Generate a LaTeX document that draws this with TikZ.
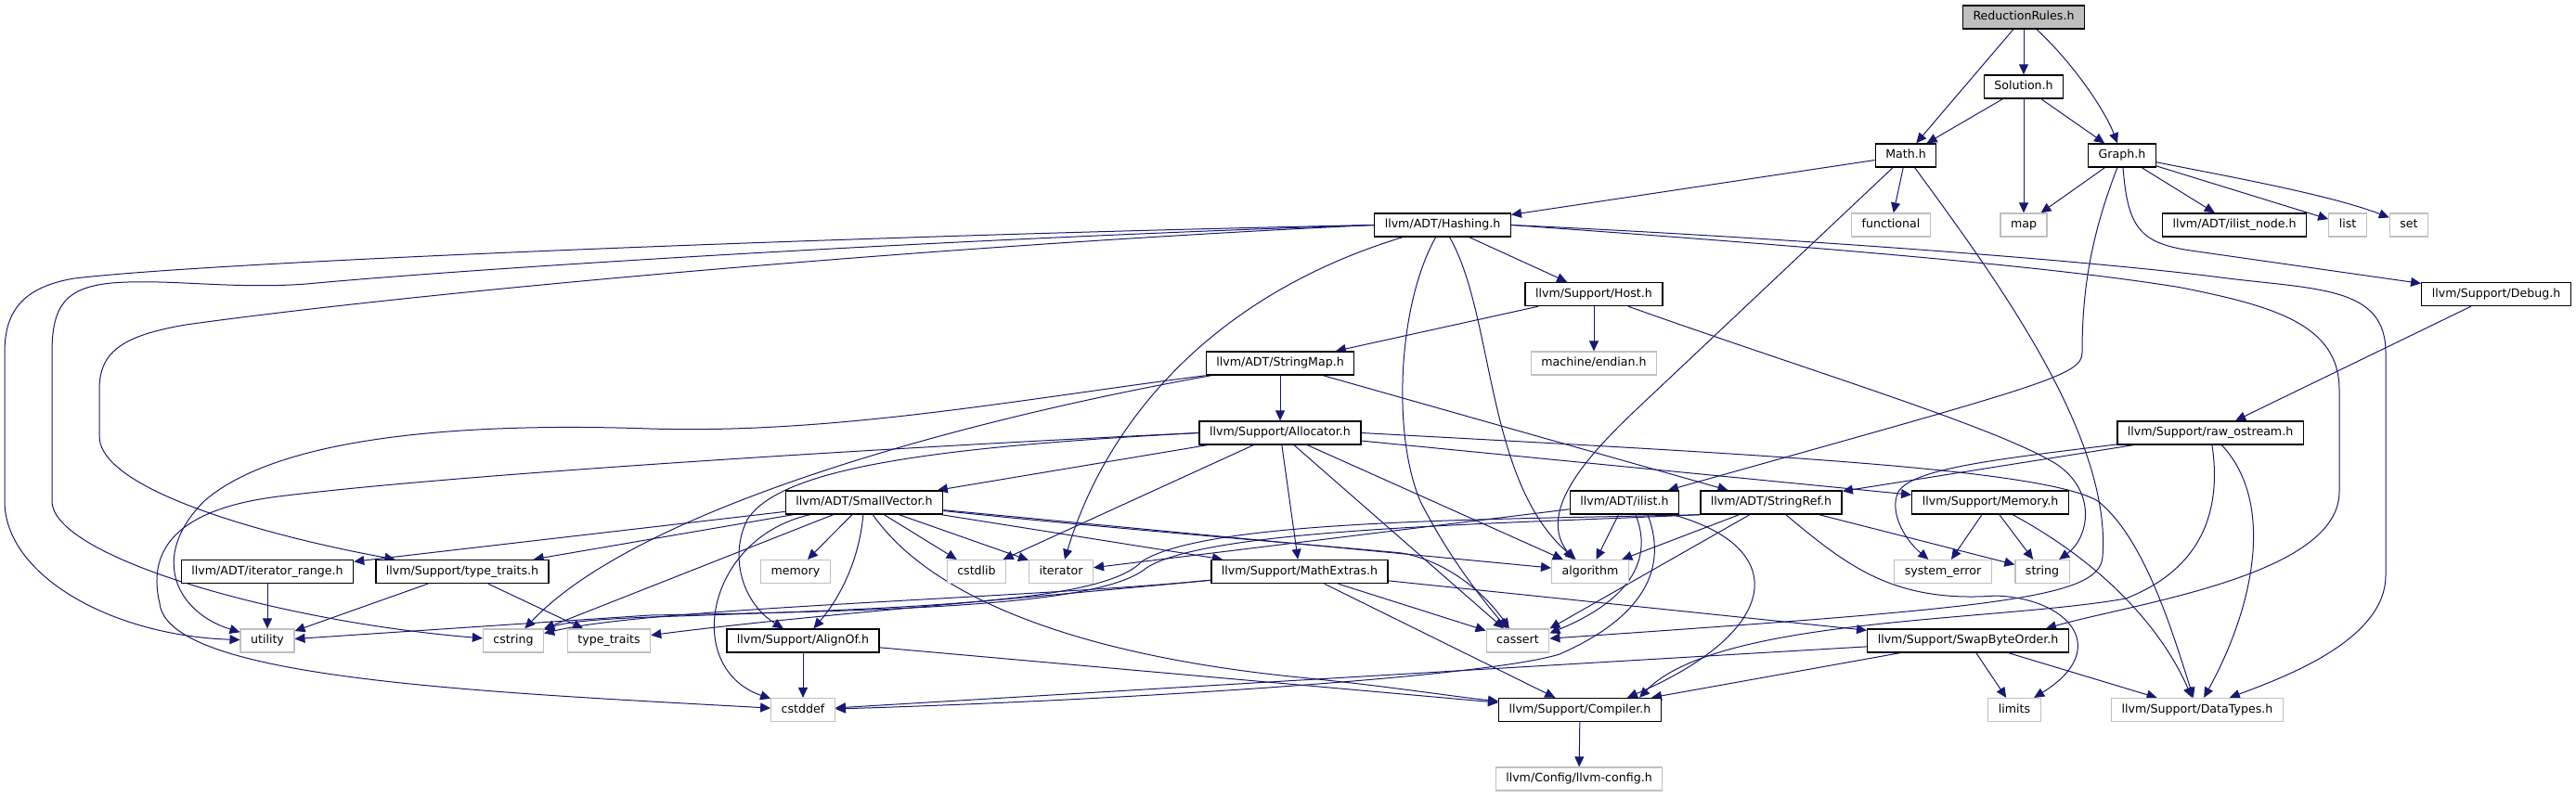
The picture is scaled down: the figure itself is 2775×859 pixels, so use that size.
\documentclass[tikz,border=0pt]{standalone}
\usepackage{fontspec}
\setmainfont{DejaVu Sans}
\usetikzlibrary{arrows.meta,backgrounds}
\definecolor{edgeblue}{HTML}{191970}
\definecolor{sysgrey}{HTML}{BFBFBF}
\tikzset{
  inc/.style={rectangle, fill=white, font=\fontsize{6.3pt}{7.5pt}\selectfont, inner xsep=5.5pt, inner ysep=0pt,
              minimum height=12.5pt, text height=4.8pt, text depth=1.4pt, line width=0.6pt},
  inc doc/.style={inc, draw=black, line width=0.7pt},
  inc sys/.style={inc, draw=sysgrey},
  inc top/.style={inc, draw=black, line width=0.7pt, fill=sysgrey},
  inc arr/.style={-{Triangle[length=5.5pt,width=5pt]}, line width=0.5pt, edgeblue},
}
\begin{document}
\begin{tikzpicture}[x=0.5pt, y=-0.5pt]
  \useasboundingbox (0,0) rectangle (2775,859);
  % rows 0-2: the header and the project files
  \node[inc top] (rr) at (2180,18.5) {ReductionRules.h};
  \node[inc doc] (sol) at (2180,93.5) {Solution.h};
  \node[inc doc] (math) at (2053,167.5) {Math.h};
  \node[inc doc] (graph) at (2286,167.5) {Graph.h};
  % row 3
  \node[inc doc] (hashing) at (1554,242.5) {llvm/ADT/Hashing.h};
  \node[inc sys] (func) at (2037,242.5) {functional};
  \node[inc sys] (map) at (2180,242.5) {map};
  \node[inc doc] (ilnode) at (2407,242.5) {llvm/ADT/ilist\_node.h};
  \node[inc sys] (list) at (2529,242.5) {list};
  \node[inc sys] (set) at (2595,242.5) {set};
  % rows 4-6
  \node[inc doc] (host) at (1717,317) {llvm/Support/Host.h};
  \node[inc doc] (debug) at (2689,317) {llvm/Support/Debug.h};
  \node[inc doc] (smap) at (1379,391.5) {llvm/ADT/StringMap.h};
  \node[inc sys] (endian) at (1717,391.5) {machine/endian.h};
  \node[inc doc] (alloc) at (1379,466.5) {llvm/Support/Allocator.h};
  \node[inc doc] (rawos) at (2381,466.5) {llvm/Support/raw\_ostream.h};
  % row 7
  \node[inc doc] (svec) at (931,541.5) {llvm/ADT/SmallVector.h};
  \node[inc doc] (ilist) at (1750,541.5) {llvm/ADT/ilist.h};
  \node[inc doc] (sref) at (1908,541.5) {llvm/ADT/StringRef.h};
  \node[inc doc] (mem) at (2144,541.5) {llvm/Support/Memory.h};
  % row 8
  \node[inc doc] (itrange) at (288,616) {llvm/ADT/iterator\_range.h};
  \node[inc doc] (ttrh) at (498,616) {llvm/Support/type\_traits.h};
  \node[inc sys] (memory) at (857,616) {memory};
  \node[inc sys] (cstdlib) at (1052,616) {cstdlib};
  \node[inc sys] (iter) at (1143,616) {iterator};
  \node[inc doc] (mext) at (1400,616) {llvm/Support/MathExtras.h};
  \node[inc sys] (algo) at (1713,616) {algorithm};
  \node[inc sys] (syserr) at (2093,616) {system\_error};
  \node[inc sys] (string) at (2200,616) {string};
  % row 9
  \node[inc sys] (utility) at (288,690.5) {utility};
  \node[inc sys] (cstring) at (553,690.5) {cstring};
  \node[inc sys] (ttraits) at (656,690.5) {type\_traits};
  \node[inc doc] (align) at (865,690.5) {llvm/Support/AlignOf.h};
  \node[inc sys] (cassert) at (1635,690.5) {cassert};
  \node[inc doc] (swap) at (2120,690.5) {llvm/Support/SwapByteOrder.h};
  % rows 10-11
  \node[inc sys] (cstddef) at (865,765) {cstddef};
  \node[inc doc] (comp) at (1702,765) {llvm/Support/Compiler.h};
  \node[inc sys] (limits) at (2170,765) {limits};
  \node[inc sys] (dtypes) at (2367,765) {llvm/Support/DataTypes.h};
  \node[inc sys] (cfg) at (1701,839.5) {llvm/Config/llvm-config.h};
  \begin{scope}[on background layer]
  % straight includes
  \foreach \a/\b in {rr/sol, rr/math, sol/math, sol/map, sol/graph, graph/map, graph/ilnode, graph/list,
      math/hashing, math/func, hashing/host, host/smap, host/endian, debug/rawos, smap/alloc, smap/sref,
      alloc/svec, alloc/cstdlib, alloc/mext, alloc/algo, alloc/cassert, alloc/mem, rawos/sref,
      svec/itrange, svec/ttrh, svec/memory, svec/cstring, svec/cstdlib, svec/iter, svec/mext, svec/algo,
      ilist/iter, ilist/algo, sref/algo, sref/string, mem/syserr, mem/string,
      itrange/utility, ttrh/utility, ttrh/ttraits, mext/cassert, mext/comp, mext/swap,
      align/cstddef, align/comp, swap/limits, swap/dtypes, comp/cfg}
    \draw[inc arr] (\a) -- (\b);
  % top part
  \draw[inc arr] (rr) .. controls (2235,70) and (2268,120) .. (graph);
  \draw[inc arr] (graph) .. controls (2400,190) and (2510,210) .. (set);
  \draw[inc arr] (graph) .. controls (2292,245) and (2305,262) .. (2360,270) -- (debug);
  \draw[inc arr] (graph) .. controls (2250,260) and (2243,320) .. (2243,380) .. controls (2243,405) and (2200,415) .. (ilist);
  \draw[inc arr] (math) -- (1780,425) .. controls (1730,472) and (1650,545) .. ([xshift=-9pt]algo.north);
  \draw[inc arr] (math) .. controls (2150,300) and (2275,470) .. (2265,600) .. controls (2262,645) and (2150,655) .. (cassert);
  % Hashing.h, long ones round the left and right
  \draw[inc arr] (hashing.west) .. controls (1000,252) and (250,280) .. (80,300) .. controls (20,310) and (5,340) .. (5,380)
      -- (5,540) .. controls (5,620) and (120,685) .. (utility);
  \draw[inc arr] (hashing.west) .. controls (1000,258) and (500,290) .. (330,306) .. controls (250,312) and (180,300) .. (120,305)
      .. controls (70,310) and (56,330) .. (56,380) -- (56,540) .. controls (56,600) and (300,670) .. (cstring);
  \draw[inc arr] (hashing.west) .. controls (1000,265) and (450,315) .. (200,350) .. controls (130,362) and (107,380) .. (107,420)
      -- (107,470) .. controls (107,530) and (300,580) .. (ttrh);
  \draw[inc arr] (hashing) .. controls (1300,320) and (1190,460) .. (iter);
  \draw[inc arr] (hashing) .. controls (1505,330) and (1500,470) .. (1530,540) .. controls (1560,600) and (1600,650) .. (cassert);
  \draw[inc arr] (hashing) .. controls (1610,340) and (1600,520) .. (algo);
  \draw[inc arr] (hashing.east) .. controls (1900,262) and (2200,285) .. (2350,310) .. controls (2450,330) and (2520,350) .. (2520,420)
      -- (2520,530) .. controls (2520,620) and (2300,650) .. ([xshift=42pt]swap.north);
  \draw[inc arr] (hashing.east) .. controls (1900,255) and (2250,280) .. (2400,300) .. controls (2500,312) and (2570,310) .. (2570,380)
      -- (2570,620) .. controls (2570,690) and (2460,730) .. (dtypes);
  \draw[inc arr] (host) .. controls (1950,400) and (2150,460) .. (2215,500) .. controls (2260,530) and (2250,580) .. (string);
  % StringMap.h and Allocator.h
  \draw[inc arr] (smap.south west) .. controls (1100,430) and (900,468) .. (700,462) .. controls (500,455) and (300,470) .. (220,540)
      .. controls (160,600) and (190,660) .. (utility);
  \draw[inc arr] (smap) .. controls (1050,450) and (690,545) .. (cstring);
  \draw[inc arr] (alloc.west) .. controls (1000,480) and (500,510) .. (300,535) .. controls (180,550) and (160,600) .. (172,650)
      .. controls (180,730) and (500,745) .. (cstddef);
  \draw[inc arr] (alloc.west) .. controls (1000,482) and (840,505) .. (805,560) .. controls (785,600) and (800,650) .. (align);
  \draw[inc arr] (alloc.east) .. controls (1900,490) and (2200,505) .. (2260,540) .. controls (2310,580) and (2340,680) .. (dtypes);
  % raw_ostream.h and Memory.h
  \draw[inc arr] (rawos) .. controls (2150,495) and (2060,505) .. (2045,530) .. controls (2035,550) and (2050,580) .. (syserr);
  \draw[inc arr] (rawos) .. controls (2392,540) and (2380,610) .. (2290,645) .. controls (2150,670) and (1850,665) .. ([xshift=32pt]comp.north);
  \draw[inc arr] (rawos) .. controls (2450,540) and (2430,650) .. (dtypes);
  \draw[inc arr] (mem) .. controls (2270,610) and (2330,680) .. (dtypes);
  % SmallVector.h
  \draw[inc arr] (svec) .. controls (760,580) and (735,720) .. (cstddef);
  \draw[inc arr] (svec) .. controls (1000,640) and (1150,705) .. (1400,730) .. controls (1500,740) and (1560,750) .. (comp);
  \draw[inc arr] (svec) .. controls (925,610) and (900,650) .. (align);
  \draw[inc arr] (svec) .. controls (1200,570) and (1450,590) .. (1510,596) .. controls (1560,605) and (1600,640) .. (cassert);
  % ilist.h
  \draw[inc arr] ([xshift=6pt]ilist.south) .. controls (1780,600) and (1760,645) .. ([yshift=-2.5pt]cassert.north east);
  \draw[inc arr] ([xshift=12.5pt]ilist.south) .. controls (1800,620) and (1760,670) .. (1680,705) .. controls (1600,730) and (1200,755) .. (cstddef);
  \draw[inc arr] ([xshift=26pt]ilist.south) .. controls (1930,590) and (1920,680) .. ([xshift=25.5pt]comp.north);
  % StringRef.h
  \draw[inc arr] (sref) -- (cassert.north east);
  \draw[inc arr] (sref) .. controls (1990,610) and (2040,650) .. (2150,642) .. controls (2230,645) and (2275,700) .. (limits);
  \draw[inc arr] (sref.south west) .. controls (1600,560) and (1300,560) .. (1230,605) .. controls (1190,648) and (1000,655) .. (700,665)
      .. controls (650,667) and (610,670) .. (cstring);
  \draw[inc arr] (sref.south west) .. controls (1600,565) and (1300,570) .. (1235,612) .. controls (1190,650) and (1000,658) .. (700,663)
      -- (utility);
  % MathExtras.h and SwapByteOrder.h
  \draw[inc arr] (mext) .. controls (1100,645) and (700,655) .. (cstring);
  \draw[inc arr] (mext) .. controls (1100,645) and (850,665) .. (ttraits);
  \draw[inc arr] (swap) -- ([xshift=38.5pt]comp.north);
  \draw[inc arr] (swap) .. controls (1700,715) and (1200,745) .. (cstddef);
  \end{scope}
\end{tikzpicture}
\end{document}
